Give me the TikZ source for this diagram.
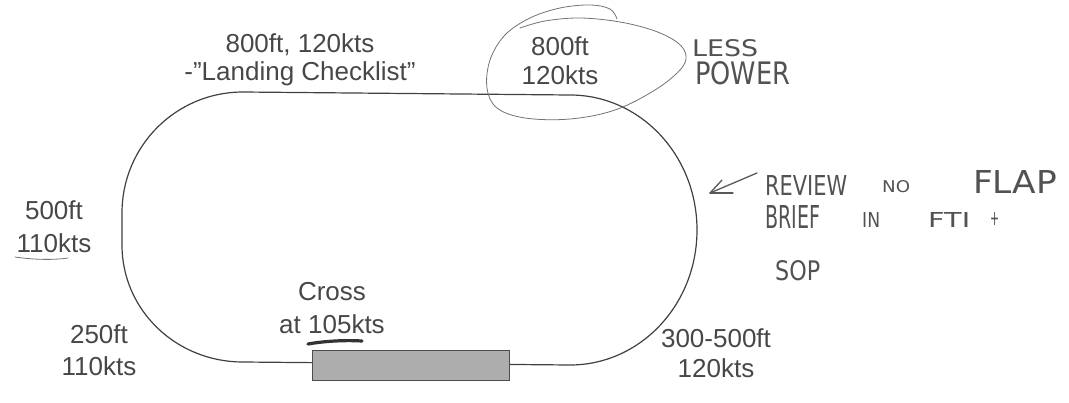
\documentclass[tikz,border=0pt]{standalone}
\usepackage{fontspec}
\setmainfont{Liberation Sans}
\newfontfamily\handfont[FakeStretch=0.8]{DejaVu Sans}
\newcommand\handword[3]{\resizebox{#1pt}{#2pt}{\handfont #3}}
\begin{document}
\begin{tikzpicture}[x=1pt,y=-1pt,
  track/.style={draw=black!75, line width=1.2pt},
  runway/.style={draw=black!70, line width=0.8pt, fill=black!32, minimum width=197pt, minimum height=30pt, inner sep=0pt},
  lbl/.style={text=black!72, align=center, anchor=base, inner sep=0pt},
  hand/.style={text=black!68, anchor=base west, inner sep=0pt},
  pencil/.style={draw=black!55, line width=0.8pt, line cap=round, line join=round},
  handline/.style={draw=black!65, line width=1.3pt, line cap=round, line join=round}]
\useasboundingbox (0,0) rectangle (1069,402);
% circuit
\draw[track] (243,92) -- (570,95)
  .. controls (640,95) and (697,155) .. (697,230)
  .. controls (697,305) and (640,365) .. (570,365)
  -- (243,362)
  .. controls (176,362) and (122,310) .. (122,245)
  -- (122,213)
  .. controls (122,146) and (176,92) .. (243,92);
\node[runway] (rwy) at (410.5,365) {};
% printed labels (anchor = baseline of the last line)
\node[lbl, font=\fontsize{26}{27.5}\selectfont] (downwind) at (300,80) {800ft, 120kts\\-"Landing Checklist”};
\node[lbl, font=\fontsize{26}{29}\selectfont] (abeam) at (560,84) {800ft\\120kts};
\node[lbl, font=\fontsize{26}{33}\selectfont] (base) at (54,252) {500ft\\110kts};
\node[lbl, font=\fontsize{26}{32}\selectfont] (final) at (99,375) {250ft\\110kts};
\node[lbl, font=\fontsize{26}{33}\selectfont] (cross) at (332,333) {Cross\\at 105kts};
\node[lbl, font=\fontsize{26}{30}\selectfont] (climb) at (716,377) {300-500ft\\120kts};
% underlines
\draw[pencil] (15,257) .. controls (35,260) and (55,260) .. (68,258);
\draw[draw=black!80, line width=3.2pt, line cap=round] (308,344) .. controls (325,341) and (345,340) .. (362,341);
% hand-drawn loop
\draw[pencil] plot[smooth, tension=0.6] coordinates {(617,19) (610,9) (590,5) (560,8) (530,18) (505,35) (490,60) (487,88) (497,108) (525,118) (570,119) (615,110) (655,90) (680,70) (686,56) (678,43) (655,31) (620,22) (580,18) (545,21) (520,28)};
% handwritten notes
\node[hand] (less) at (692,56) {\handword{66}{17}{LESS}};
\node[hand] (power) at (695,84) {\handword{95}{23}{POWER}};
\node[hand] (review) at (765,195) {\handword{82}{20}{REVIEW}};
\node[hand] (no) at (882,192) {\handword{28}{12}{NO}};
\node[hand] (flap) at (973,193) {\handword{84}{23}{FLAP}};
\node[hand] (brief) at (765,228) {\handword{55}{23}{BRIEF}};
\node[hand] (in) at (862,227) {\handword{18}{15}{IN}};
\node[hand] (fti) at (928,227) {\handword{42}{15}{FTI}};
\node[hand] (plus) at (990,225) {\handword{9}{13}{+}};
\node[hand] (sop) at (775,280) {\handword{45}{20}{SOP}};
% arrow
\coordinate (arrS) at (757,173);
\coordinate (arrT) at (710,193);
\draw[handline] (arrS) -- (arrT);
\draw[handline] (arrT) -- ++(12,-13);
\draw[handline] (arrT) -- ++(23,0);
\end{tikzpicture}
\end{document}
